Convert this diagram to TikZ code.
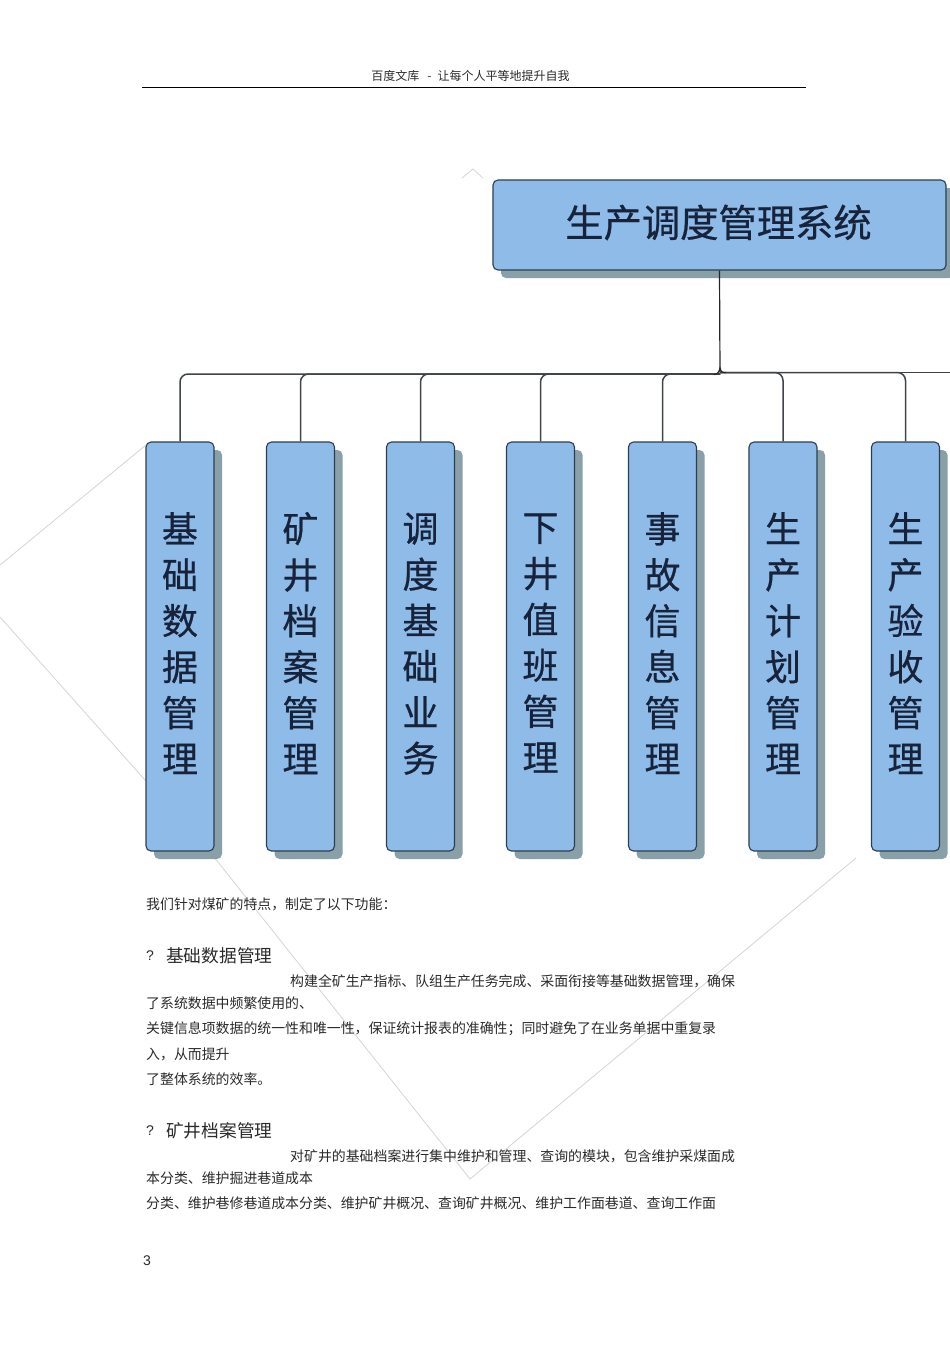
\documentclass[tikz,border=0pt]{standalone}
\usepackage{fontspec}
\setmainfont{Noto Sans CJK SC}
\newfontfamily\latinsans{Liberation Sans}
\newfontfamily\boxfont[FakeBold=0.6]{Noto Sans CJK SC}
\usetikzlibrary{shadows}
\newcommand{\tailch}[1]{\rule[-8.5pt]{0pt}{8.5pt}#1}
\definecolor{boxfill}{HTML}{8FBBE8}
\definecolor{boxedge}{HTML}{2C3E50}
\definecolor{boxshadow}{HTML}{8AA0A8}
\definecolor{boxtext}{HTML}{16233A}
\definecolor{linkgrey}{HTML}{3F4448}
\definecolor{bodytext}{HTML}{2A2A2A}
\definecolor{creasegrey}{HTML}{D4D4D4}
\tikzset{
  box/.style={draw=boxedge,line width=1.1pt,fill=boxfill,rounded corners=5pt,
    drop shadow={shadow xshift=8pt,shadow yshift=-8pt,opacity=1,fill=boxshadow},
    text=boxtext,inner sep=0pt},
  rootbox/.style={box,minimum width=453pt,minimum height=90pt,
    font=\boxfont\fontsize{38.3}{38}\selectfont},
  leaf/.style={box,minimum width=68pt,minimum height=409pt,align=center,
    font=\boxfont\fontsize{36}{46}\selectfont},
  link/.style={draw=linkgrey,line width=1.5pt,rounded corners=8pt},
  trunk/.style={draw=black!85,line width=1.2pt},
  body/.style={anchor=west,inner sep=0pt,text=bodytext,font=\fontsize{13.9}{14}\selectfont},
  heading/.style={anchor=west,inner sep=0pt,text=bodytext,font=\fontsize{17.7}{18}\selectfont},
  crease/.style={draw=creasegrey,line width=0.8pt}
}
\begin{document}
\begin{tikzpicture}[x=1pt,y=-1pt]
\useasboundingbox (0,0) rectangle (950,1345);
% watermark creases
\draw[crease] (462,178) -- (473,169) -- (483,178);
\draw[crease] (146,445) -- (0,565);
\draw[crease] (0,617) -- (218,862);
\draw[crease] (218,862) -- (470,1179) -- (856,858);
% header
\node[anchor=center,inner sep=0pt,text=bodytext,font=\fontsize{12}{12}\selectfont] (hdr) at (470.5,75.7) {百度文库\hspace{8pt}-\hspace{6pt}让每个人平等地提升自我};
\draw[black,line width=0.6pt] (142,87) -- (806,87);
% nodes
\node[rootbox,text depth=0pt,text height=0pt] (root) at (719.5,225) {\hspace{-2pt}\raisebox{-12pt}{生产调度管理系统}};
\node[leaf] (n1) at (180,646.5) {基\\础\\数\\据\\管\\\tailch{理}};
\node[leaf] (n2) at (300.5,646.5) {矿\\井\\档\\案\\管\\\tailch{理}};
\node[leaf] (n3) at (420.5,646.5) {调\\度\\基\\础\\业\\\tailch{务}};
\node[leaf] (n4) at (540.5,646.5) {下\\井\\值\\班\\管\\\tailch{理}};
\node[leaf] (n5) at (662.5,646.5) {事\\故\\信\\息\\管\\\tailch{理}};
\node[leaf] (n6) at (783,646.5) {生\\产\\计\\划\\管\\\tailch{理}};
\node[leaf] (n7) at (905.5,646.5) {生\\产\\验\\收\\管\\\tailch{理}};
\coordinate (busl) at (720,374);
\coordinate (busr) at (720,372.5);
\coordinate (busend) at (950,372.5);
% connectors
\foreach \n in {n1,n2,n3,n4,n5}{\draw[link] (\n.north) |- (busl);}
\foreach \n in {n6,n7}{\draw[link] (\n.north) |- (busr);}
\draw[link] (busr) -- (busend);
\draw[trunk] (root.south) -- (busr);
\draw[trunk] (714,374.5) .. controls (718,374) and (719,372) .. (720,368) .. controls (721,372) and (722,372.5) .. (726,372.5);
% body text
\node[body] (t1) at (146,904) {我们针对煤矿的特点，制定了以下功能：};
\node[anchor=west,inner sep=0pt,text=bodytext,font=\latinsans\fontsize{14}{14}\selectfont] (q1) at (146,956) {?};
\node[heading] (h1) at (166,956) {基础数据管理};
\node[body] (t2) at (290,981) {构建全矿生产指标、队组生产任务完成、采面衔接等基础数据管理，确保};
\node[body] (t3) at (146,1003.5) {了系统数据中频繁使用的、};
\node[body] (t4) at (146,1028.5) {关键信息项数据的统一性和唯一性，保证统计报表的准确性；同时避免了在业务单据中重复录};
\node[body] (t5) at (146,1054) {入，从而提升};
\node[body] (t6) at (146,1079) {了整体系统的效率。};
\node[anchor=west,inner sep=0pt,text=bodytext,font=\latinsans\fontsize{14}{14}\selectfont] (q2) at (146,1131) {?};
\node[heading] (h2) at (166,1131) {矿井档案管理};
\node[body] (t7) at (290,1156) {对矿井的基础档案进行集中维护和管理、查询的模块，包含维护采煤面成};
\node[body] (t8) at (146,1178.5) {本分类、维护掘进巷道成本};
\node[body] (t9) at (146,1203.5) {分类、维护巷修巷道成本分类、维护矿井概况、查询矿井概况、维护工作面巷道、查询工作面};
\node[anchor=west,inner sep=0pt,text=bodytext,font=\latinsans\fontsize{14}{14}\selectfont] (pg) at (143,1260.5) {3};
\end{tikzpicture}
\end{document}
